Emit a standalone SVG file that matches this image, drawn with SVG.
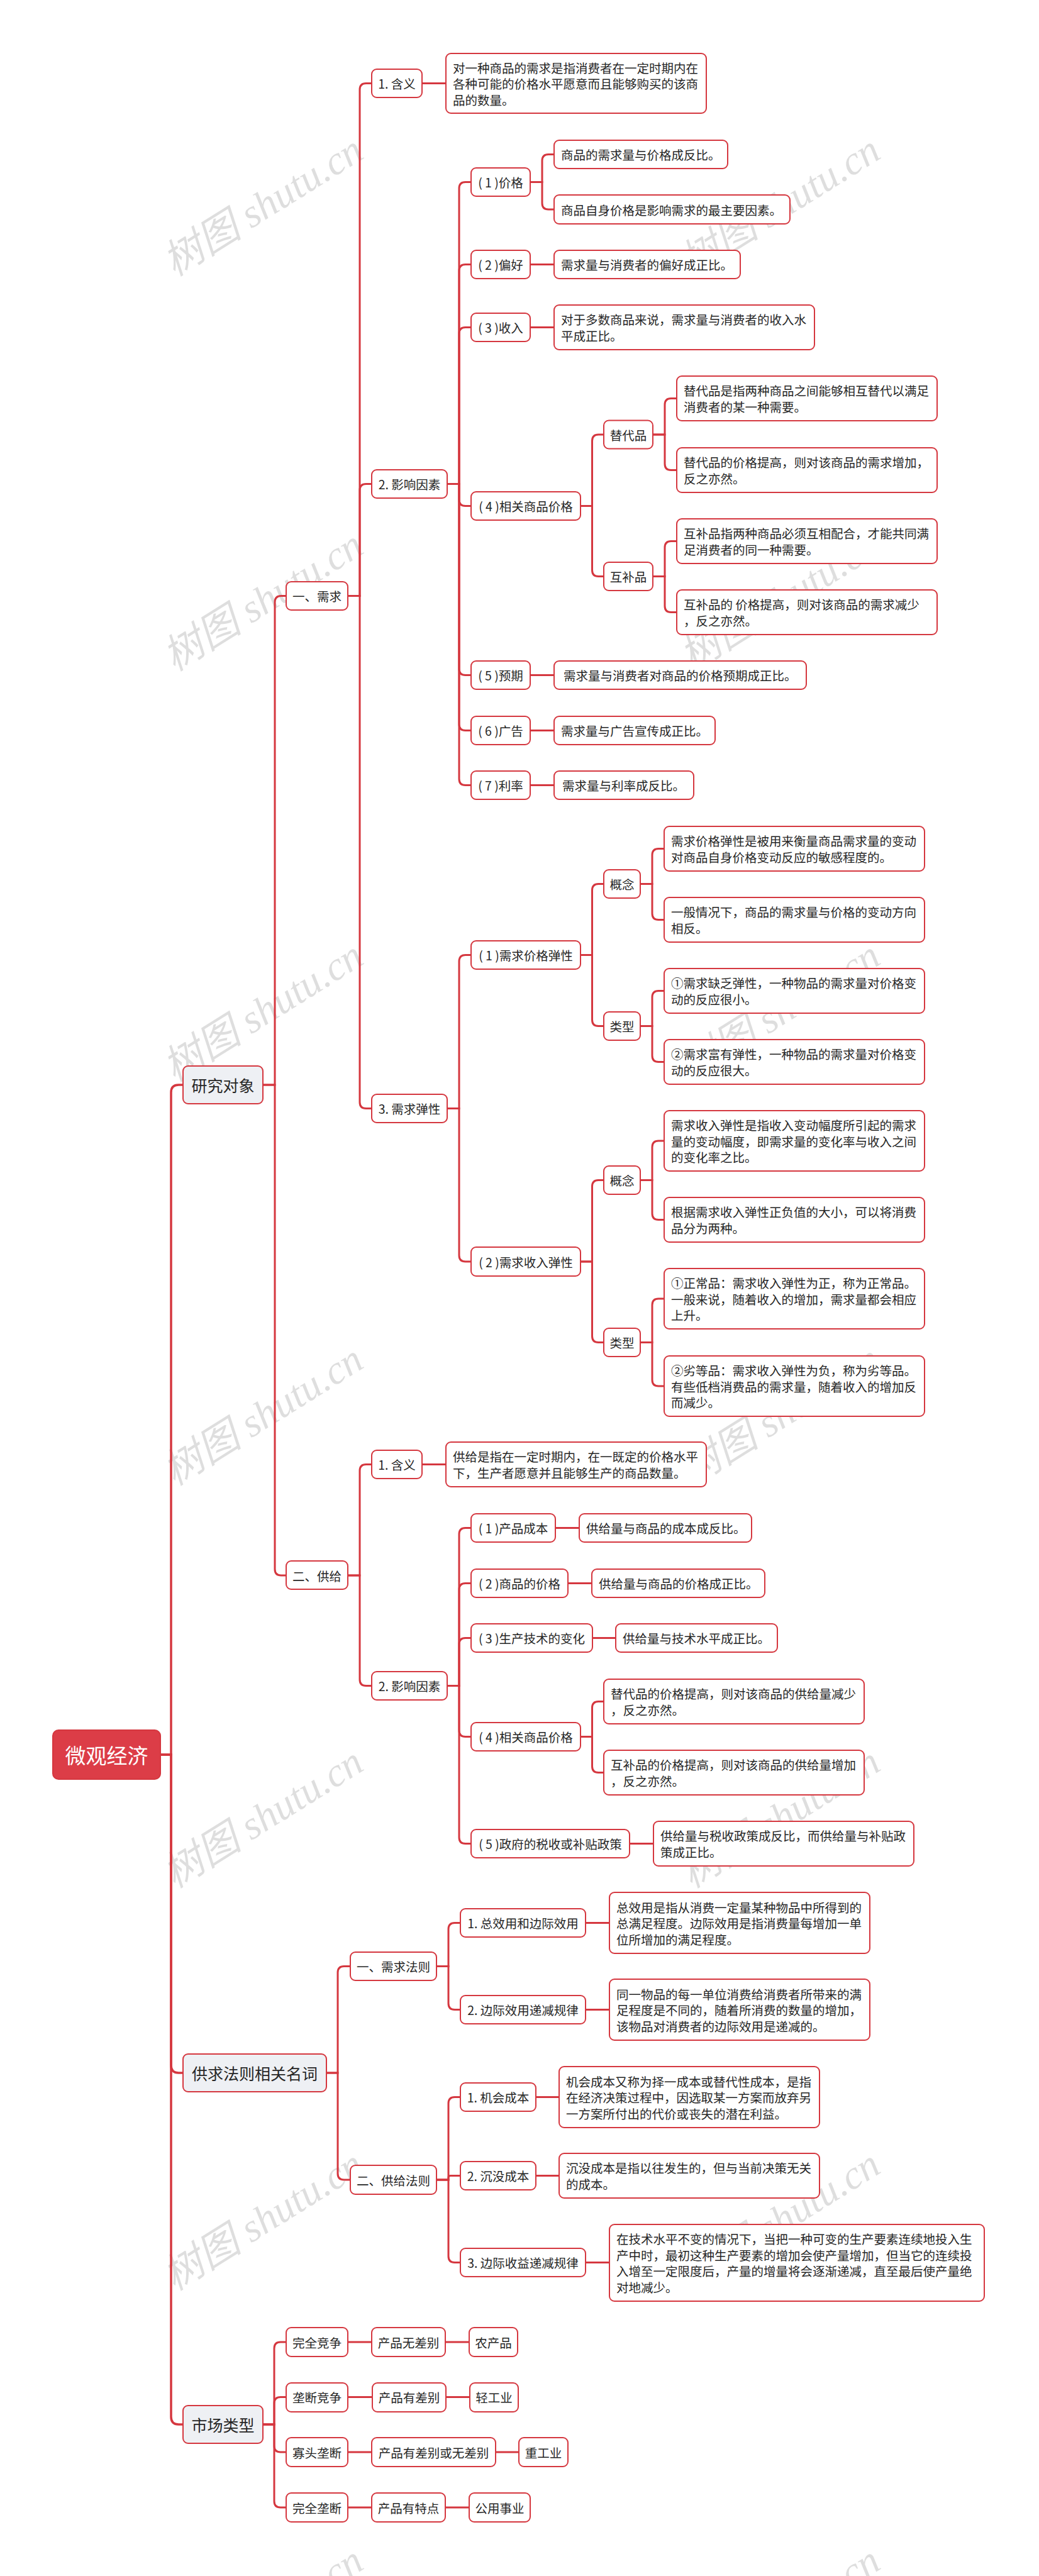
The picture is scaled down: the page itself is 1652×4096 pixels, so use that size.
<svg xmlns="http://www.w3.org/2000/svg" width="1652" height="4096" viewBox="0 0 1652 4096">
<style>
.n{fill:#fff;stroke:#d5373f;stroke-width:2}
.l1{fill:#eef0f4;stroke:#d5373f;stroke-width:2}
.root{fill:#dc3d47;stroke:#d5373f;stroke-width:2}
.t{font-family:"Noto Sans CJK SC","Liberation Sans",sans-serif;font-size:19.5px;fill:#262626;dominant-baseline:central}
.t1{font-family:"Noto Sans CJK SC","Liberation Sans",sans-serif;font-size:25px;fill:#262626;dominant-baseline:central;text-anchor:middle}
.tr{font-family:"Noto Sans CJK SC","Liberation Sans",sans-serif;font-size:33px;fill:#fff;dominant-baseline:central;text-anchor:middle}
.m{text-anchor:middle}
.c path{fill:none;stroke:#d5373f;stroke-width:3}
.c path.s{stroke-width:3.5}
.wm{font-family:"Liberation Serif","Noto Sans CJK SC",serif;font-style:italic;font-size:64px;fill:#000;fill-opacity:0.13;text-anchor:middle;dominant-baseline:central}
</style>
<rect width="1652" height="4096" fill="#fff"/>
<g id="watermarks">
<text class="wm" x="418" y="327" transform="rotate(-32 418 327)">树图 shutu.cn</text>
<text class="wm" x="1240" y="327" transform="rotate(-32 1240 327)">树图 shutu.cn</text>
<text class="wm" x="418" y="955" transform="rotate(-32 418 955)">树图 shutu.cn</text>
<text class="wm" x="1240" y="955" transform="rotate(-32 1240 955)">树图 shutu.cn</text>
<text class="wm" x="418" y="1608" transform="rotate(-32 418 1608)">树图 shutu.cn</text>
<text class="wm" x="1240" y="1608" transform="rotate(-32 1240 1608)">树图 shutu.cn</text>
<text class="wm" x="418" y="2250" transform="rotate(-32 418 2250)">树图 shutu.cn</text>
<text class="wm" x="1240" y="2250" transform="rotate(-32 1240 2250)">树图 shutu.cn</text>
<text class="wm" x="418" y="2890" transform="rotate(-32 418 2890)">树图 shutu.cn</text>
<text class="wm" x="1240" y="2890" transform="rotate(-32 1240 2890)">树图 shutu.cn</text>
<text class="wm" x="418" y="3530" transform="rotate(-32 418 3530)">树图 shutu.cn</text>
<text class="wm" x="1240" y="3530" transform="rotate(-32 1240 3530)">树图 shutu.cn</text>
<text class="wm" x="418" y="4160" transform="rotate(-32 418 4160)">树图 shutu.cn</text>
<text class="wm" x="1240" y="4160" transform="rotate(-32 1240 4160)">树图 shutu.cn</text>
</g>
<g class="c" id="connectors">
<path class="s" d="M255 2790 H272 V1737 Q272 1725 284 1725 H291"/>
<path class="s" d="M255 2790 H272 V3284 Q272 3296 284 3296 H291"/>
<path class="s" d="M255 2790 H272 V3843 Q272 3855 284 3855 H291"/>
<path d="M418 1725 H437 V957.5 Q437 947.5 447 947.5 H455"/>
<path d="M418 1725 H437 V2495 Q437 2505 447 2505 H455"/>
<path d="M553 947.5 H572 V142.5 Q572 132.5 582 132.5 H591"/>
<path d="M553 947.5 H572 V779.5 Q572 769.5 582 769.5 H591"/>
<path d="M553 947.5 H572 V1752.5 Q572 1762.5 582 1762.5 H591"/>
<path d="M671 132.5 H709"/>
<path d="M711 769.5 H730 V299.5 Q730 289.5 740 289.5 H749"/>
<path d="M711 769.5 H730 V430.5 Q730 420.5 740 420.5 H749"/>
<path d="M711 769.5 H730 V530.5 Q730 520.5 740 520.5 H749"/>
<path d="M711 769.5 H730 V794.5 Q730 804.5 740 804.5 H749"/>
<path d="M711 769.5 H730 V1063.5 Q730 1073.5 740 1073.5 H749"/>
<path d="M711 769.5 H730 V1151.5 Q730 1161.5 740 1161.5 H749"/>
<path d="M711 769.5 H730 V1238.5 Q730 1248.5 740 1248.5 H749"/>
<path d="M843 289.5 H862 V255.5 Q862 245.5 872 245.5 H881"/>
<path d="M843 289.5 H862 V323 Q862 333 872 333 H881"/>
<path d="M843 420.5 H881"/>
<path d="M843 520.5 H881"/>
<path d="M923 804.5 H941.5 V701 Q941.5 691 951.5 691 H960"/>
<path d="M923 804.5 H941.5 V906.5 Q941.5 916.5 951.5 916.5 H960"/>
<path d="M1038 691 H1057 V643.5 Q1057 633.5 1067 633.5 H1076"/>
<path d="M1038 691 H1057 V737.5 Q1057 747.5 1067 747.5 H1076"/>
<path d="M1038 916.5 H1057 V870.5 Q1057 860.5 1067 860.5 H1076"/>
<path d="M1038 916.5 H1057 V963.5 Q1057 973.5 1067 973.5 H1076"/>
<path d="M843 1073.5 H881"/>
<path d="M843 1161.5 H881"/>
<path d="M843 1248.5 H881"/>
<path d="M711 1762.5 H730 V1528.5 Q730 1518.5 740 1518.5 H749"/>
<path d="M711 1762.5 H730 V1996 Q730 2006 740 2006 H749"/>
<path d="M923 1518.5 H941.5 V1415.5 Q941.5 1405.5 951.5 1405.5 H960"/>
<path d="M923 1518.5 H941.5 V1621.5 Q941.5 1631.5 951.5 1631.5 H960"/>
<path d="M1018 1405.5 H1037 V1359.5 Q1037 1349.5 1047 1349.5 H1056"/>
<path d="M1018 1405.5 H1037 V1452.5 Q1037 1462.5 1047 1462.5 H1056"/>
<path d="M1018 1631.5 H1037 V1585.5 Q1037 1575.5 1047 1575.5 H1056"/>
<path d="M1018 1631.5 H1037 V1678.5 Q1037 1688.5 1047 1688.5 H1056"/>
<path d="M923 2006 H941.5 V1886.5 Q941.5 1876.5 951.5 1876.5 H960"/>
<path d="M923 2006 H941.5 V2124.5 Q941.5 2134.5 951.5 2134.5 H960"/>
<path d="M1018 1876.5 H1037 V1824 Q1037 1814 1047 1814 H1056"/>
<path d="M1018 1876.5 H1037 V1929.5 Q1037 1939.5 1047 1939.5 H1056"/>
<path d="M1018 2134.5 H1037 V2075 Q1037 2065 1047 2065 H1056"/>
<path d="M1018 2134.5 H1037 V2194 Q1037 2204 1047 2204 H1056"/>
<path d="M553 2505 H572 V2338.5 Q572 2328.5 582 2328.5 H591"/>
<path d="M553 2505 H572 V2670.5 Q572 2680.5 582 2680.5 H591"/>
<path d="M671 2328.5 H709"/>
<path d="M711 2680.5 H730 V2439.5 Q730 2429.5 740 2429.5 H749"/>
<path d="M711 2680.5 H730 V2527.5 Q730 2517.5 740 2517.5 H749"/>
<path d="M711 2680.5 H730 V2614.5 Q730 2604.5 740 2604.5 H749"/>
<path d="M711 2680.5 H730 V2751.5 Q730 2761.5 740 2761.5 H749"/>
<path d="M711 2680.5 H730 V2921.5 Q730 2931.5 740 2931.5 H749"/>
<path d="M883 2429.5 H921"/>
<path d="M903 2517.5 H941"/>
<path d="M942 2604.5 H979"/>
<path d="M923 2761.5 H941.5 V2715.5 Q941.5 2705.5 951.5 2705.5 H960"/>
<path d="M923 2761.5 H941.5 V2808.5 Q941.5 2818.5 951.5 2818.5 H960"/>
<path d="M1001 2931.5 H1039"/>
<path d="M519 3296 H537 V3136.5 Q537 3126.5 547 3126.5 H557"/>
<path d="M519 3296 H537 V3456 Q537 3466 547 3466 H557"/>
<path d="M694 3126.5 H713 V3067.5 Q713 3057.5 723 3057.5 H732"/>
<path d="M694 3126.5 H713 V3185.5 Q713 3195.5 723 3195.5 H732"/>
<path d="M694 3466 H713 V3344.5 Q713 3334.5 723 3334.5 H732"/>
<path d="M694 3466 H713 V3462.5 Q713 3459.5 716 3459.5 H732"/>
<path d="M694 3466 H713 V3587.5 Q713 3597.5 723 3597.5 H732"/>
<path d="M931 3057.5 H969"/>
<path d="M931 3195.5 H969"/>
<path d="M852 3334.5 H889"/>
<path d="M852 3459.5 H889"/>
<path d="M931 3597.5 H969"/>
<path d="M418 3855 H436 V3734 Q436 3724 446 3724 H455"/>
<path d="M418 3855 H436 V3821.5 Q436 3811.5 446 3811.5 H455"/>
<path d="M418 3855 H436 V3889 Q436 3899 446 3899 H455"/>
<path d="M418 3855 H436 V3977 Q436 3987 446 3987 H455"/>
<path d="M553 3724 H591"/><path d="M708 3724 H746"/>
<path d="M553 3811.5 H592"/><path d="M709 3811.5 H747"/>
<path d="M553 3899 H591"/><path d="M788 3899 H825"/>
<path d="M553 3987 H591"/><path d="M708 3987 H746"/>
</g>
<g id="root"><rect class="root" x="84" y="2751" width="171" height="78" rx="9"/><text class="tr" x="169.5" y="2790">微观经济</text></g>
<g id="n-yanjiu"><rect class="l1" x="291" y="1695" width="127" height="60" rx="8"/><text class="t1" x="354.5" y="1725">研究对象</text></g>
<g id="n-gongqiu"><rect class="l1" x="291" y="3266" width="228" height="60" rx="8"/><text class="t1" x="405" y="3296">供求法则相关名词</text></g>
<g id="n-shichang"><rect class="l1" x="291" y="3825" width="127" height="60" rx="8"/><text class="t1" x="354.5" y="3855">市场类型</text></g>

<g id="n-xuqiu"><rect class="n" x="455" y="925" width="98" height="45" rx="8"/><text class="t m" x="504" y="947.5">一、需求</text></g>
<g id="n-gongji"><rect class="n" x="455" y="2482" width="98" height="45" rx="8"/><text class="t m" x="504" y="2505">二、供给</text></g>

<g id="n-x-hanyi"><rect class="n" x="591" y="110" width="80" height="45" rx="8"/><text class="t m" x="631" y="132.5">1. 含义</text></g>
<g id="n-x-hanyi-d"><rect class="n" x="709" y="85" width="414" height="95" rx="8"/><text class="t" x="720" y="107">对一种商品的需求是指消费者在一定时期内在</text><text class="t" x="720" y="132.5">各种可能的价格水平愿意而且能够购买的该商</text><text class="t" x="720" y="158">品的数量。</text></g>
<g id="n-x-yingxiang"><rect class="n" x="591" y="747" width="120" height="45" rx="8"/><text class="t m" x="651" y="769.5">2. 影响因素</text></g>
<g id="n-x-tanxing"><rect class="n" x="591" y="1740" width="120" height="45" rx="8"/><text class="t m" x="651" y="1762.5">3. 需求弹性</text></g>

<g id="n-jiage"><rect class="n" x="749" y="267" width="94" height="45" rx="8"/><text class="t m" x="796" y="289.5">( 1 )价格</text></g>
<g id="n-jiage-a"><rect class="n" x="881" y="223" width="276" height="45" rx="8"/><text class="t" x="892" y="245.5">商品的需求量与价格成反比。</text></g>
<g id="n-jiage-b"><rect class="n" x="881" y="310" width="375" height="46" rx="8"/><text class="t" x="892" y="333">商品自身价格是影响需求的最主要因素。</text></g>
<g id="n-pianhao"><rect class="n" x="749" y="398" width="94" height="45" rx="8"/><text class="t m" x="796" y="420.5">( 2 )偏好</text></g>
<g id="n-pianhao-a"><rect class="n" x="881" y="398" width="296" height="45" rx="8"/><text class="t" x="892" y="420.5">需求量与消费者的偏好成正比。</text></g>
<g id="n-shouru"><rect class="n" x="749" y="498" width="94" height="45" rx="8"/><text class="t m" x="796" y="520.5">( 3 )收入</text></g>
<g id="n-shouru-a"><rect class="n" x="881" y="485" width="414" height="71" rx="8"/><text class="t" x="892" y="507.75">对于多数商品来说，需求量与消费者的收入水</text><text class="t" x="892" y="533.25">平成正比。</text></g>
<g id="n-xiangguan"><rect class="n" x="749" y="782" width="174" height="45" rx="8"/><text class="t m" x="836" y="804.5">( 4 )相关商品价格</text></g>
<g id="n-tidai"><rect class="n" x="960" y="668.5" width="78" height="45" rx="8"/><text class="t m" x="999" y="691">替代品</text></g>
<g id="n-tidai-a"><rect class="n" x="1076" y="598" width="414" height="71" rx="8"/><text class="t" x="1087" y="620.75">替代品是指两种商品之间能够相互替代以满足</text><text class="t" x="1087" y="646.25">消费者的某一种需要。</text></g>
<g id="n-tidai-b"><rect class="n" x="1076" y="712" width="414" height="71" rx="8"/><text class="t" x="1087" y="734.75">替代品的价格提高，则对该商品的需求增加，</text><text class="t" x="1087" y="760.25">反之亦然。</text></g>
<g id="n-hubu"><rect class="n" x="960" y="894" width="78" height="45" rx="8"/><text class="t m" x="999" y="916.5">互补品</text></g>
<g id="n-hubu-a"><rect class="n" x="1076" y="825" width="414" height="71" rx="8"/><text class="t" x="1087" y="847.75">互补品指两种商品必须互相配合，才能共同满</text><text class="t" x="1087" y="873.25">足消费者的同一种需要。</text></g>
<g id="n-hubu-b"><rect class="n" x="1076" y="938" width="414" height="71" rx="8"/><text class="t" x="1087" y="960.75">互补品的 价格提高，则对该商品的需求减少</text><text class="t" x="1087" y="986.25">，反之亦然。</text></g>
<g id="n-yuqi"><rect class="n" x="749" y="1051" width="94" height="45" rx="8"/><text class="t m" x="796" y="1073.5">( 5 )预期</text></g>
<g id="n-yuqi-a"><rect class="n" x="881" y="1051" width="401" height="45" rx="8"/><text class="t" x="896" y="1073.5">需求量与消费者对商品的价格预期成正比。</text></g>
<g id="n-guanggao"><rect class="n" x="749" y="1139" width="94" height="45" rx="8"/><text class="t m" x="796" y="1161.5">( 6 )广告</text></g>
<g id="n-guanggao-a"><rect class="n" x="881" y="1139" width="256" height="45" rx="8"/><text class="t" x="892" y="1161.5">需求量与广告宣传成正比。</text></g>
<g id="n-lilv"><rect class="n" x="749" y="1226" width="94" height="45" rx="8"/><text class="t m" x="796" y="1248.5">( 7 )利率</text></g>
<g id="n-lilv-a"><rect class="n" x="881" y="1226" width="222" height="45" rx="8"/><text class="t" x="894" y="1248.5">需求量与利率成反比。</text></g>

<g id="n-jgtx"><rect class="n" x="749" y="1496" width="174" height="45" rx="8"/><text class="t m" x="836" y="1518.5">( 1 )需求价格弹性</text></g>
<g id="n-gn1"><rect class="n" x="960" y="1383" width="58" height="45" rx="8"/><text class="t m" x="989" y="1405.5">概念</text></g>
<g id="n-gn1-a"><rect class="n" x="1056" y="1314" width="414" height="71" rx="8"/><text class="t" x="1067" y="1336.75">需求价格弹性是被用来衡量商品需求量的变动</text><text class="t" x="1067" y="1362.25">对商品自身价格变动反应的敏感程度的。</text></g>
<g id="n-gn1-b"><rect class="n" x="1056" y="1427" width="414" height="71" rx="8"/><text class="t" x="1067" y="1449.75">一般情况下，商品的需求量与价格的变动方向</text><text class="t" x="1067" y="1475.25">相反。</text></g>
<g id="n-lx1"><rect class="n" x="960" y="1609" width="58" height="45" rx="8"/><text class="t m" x="989" y="1631.5">类型</text></g>
<g id="n-lx1-a"><rect class="n" x="1056" y="1540" width="414" height="71" rx="8"/><text class="t" x="1067" y="1562.75">①需求缺乏弹性，一种物品的需求量对价格变</text><text class="t" x="1067" y="1588.25">动的反应很小。</text></g>
<g id="n-lx1-b"><rect class="n" x="1056" y="1653" width="414" height="71" rx="8"/><text class="t" x="1067" y="1675.75">②需求富有弹性，一种物品的需求量对价格变</text><text class="t" x="1067" y="1701.25">动的反应很大。</text></g>
<g id="n-srtx"><rect class="n" x="749" y="1983" width="174" height="46" rx="8"/><text class="t m" x="836" y="2006">( 2 )需求收入弹性</text></g>
<g id="n-gn2"><rect class="n" x="960" y="1854" width="58" height="45" rx="8"/><text class="t m" x="989" y="1876.5">概念</text></g>
<g id="n-gn2-a"><rect class="n" x="1056" y="1766" width="414" height="96" rx="8"/><text class="t" x="1067" y="1788.5">需求收入弹性是指收入变动幅度所引起的需求</text><text class="t" x="1067" y="1814">量的变动幅度，即需求量的变化率与收入之间</text><text class="t" x="1067" y="1839.5">的变化率之比。</text></g>
<g id="n-gn2-b"><rect class="n" x="1056" y="1904" width="414" height="71" rx="8"/><text class="t" x="1067" y="1926.75">根据需求收入弹性正负值的大小，可以将消费</text><text class="t" x="1067" y="1952.25">品分为两种。</text></g>
<g id="n-lx2"><rect class="n" x="960" y="2112" width="58" height="45" rx="8"/><text class="t m" x="989" y="2134.5">类型</text></g>
<g id="n-lx2-a"><rect class="n" x="1056" y="2017" width="414" height="96" rx="8"/><text class="t" x="1067" y="2039.5">①正常品：需求收入弹性为正，称为正常品。</text><text class="t" x="1067" y="2065">一般来说，随着收入的增加，需求量都会相应</text><text class="t" x="1067" y="2090.5">上升。</text></g>
<g id="n-lx2-b"><rect class="n" x="1056" y="2156" width="414" height="96" rx="8"/><text class="t" x="1067" y="2178.5">②劣等品：需求收入弹性为负，称为劣等品。</text><text class="t" x="1067" y="2204">有些低档消费品的需求量，随着收入的增加反</text><text class="t" x="1067" y="2229.5">而减少。</text></g>

<g id="n-g-hanyi"><rect class="n" x="591" y="2306" width="80" height="45" rx="8"/><text class="t m" x="631" y="2328.5">1. 含义</text></g>
<g id="n-g-hanyi-d"><rect class="n" x="709" y="2293" width="414" height="71" rx="8"/><text class="t" x="720" y="2315.75">供给是指在一定时期内，在一既定的价格水平</text><text class="t" x="720" y="2341.25">下，生产者愿意并且能够生产的商品数量。</text></g>
<g id="n-g-yingxiang"><rect class="n" x="591" y="2658" width="120" height="45" rx="8"/><text class="t m" x="651" y="2680.5">2. 影响因素</text></g>
<g id="n-chengben"><rect class="n" x="749" y="2407" width="134" height="45" rx="8"/><text class="t m" x="816" y="2429.5">( 1 )产品成本</text></g>
<g id="n-chengben-a"><rect class="n" x="921" y="2407" width="274" height="45" rx="8"/><text class="t" x="932" y="2429.5">供给量与商品的成本成反比。</text></g>
<g id="n-spjg"><rect class="n" x="749" y="2495" width="154" height="45" rx="8"/><text class="t m" x="826" y="2517.5">( 2 )商品的价格</text></g>
<g id="n-spjg-a"><rect class="n" x="941" y="2495" width="275" height="45" rx="8"/><text class="t" x="952" y="2517.5">供给量与商品的价格成正比。</text></g>
<g id="n-jishu"><rect class="n" x="749" y="2582" width="193" height="45" rx="8"/><text class="t m" x="845.5" y="2604.5">( 3 )生产技术的变化</text></g>
<g id="n-jishu-a"><rect class="n" x="979" y="2582" width="257" height="45" rx="8"/><text class="t" x="990" y="2604.5">供给量与技术水平成正比。</text></g>
<g id="n-g-xiangguan"><rect class="n" x="749" y="2739" width="174" height="45" rx="8"/><text class="t m" x="836" y="2761.5">( 4 )相关商品价格</text></g>
<g id="n-g-xiangguan-a"><rect class="n" x="960" y="2670" width="414" height="71" rx="8"/><text class="t" x="971" y="2692.75">替代品的价格提高，则对该商品的供给量减少</text><text class="t" x="971" y="2718.25">，反之亦然。</text></g>
<g id="n-g-xiangguan-b"><rect class="n" x="960" y="2783" width="414" height="71" rx="8"/><text class="t" x="971" y="2805.75">互补品的价格提高，则对该商品的供给量增加</text><text class="t" x="971" y="2831.25">，反之亦然。</text></g>
<g id="n-zhengce"><rect class="n" x="749" y="2909" width="252" height="45" rx="8"/><text class="t m" x="875" y="2931.5">( 5 )政府的税收或补贴政策</text></g>
<g id="n-zhengce-a"><rect class="n" x="1039" y="2896" width="414" height="71" rx="8"/><text class="t" x="1050" y="2918.75">供给量与税收政策成反比，而供给量与补贴政</text><text class="t" x="1050" y="2944.25">策成正比。</text></g>

<g id="n-xqfz"><rect class="n" x="557" y="3104" width="137" height="45" rx="8"/><text class="t m" x="625.5" y="3126.5">一、需求法则</text></g>
<g id="n-xiaoyong"><rect class="n" x="732" y="3035" width="199" height="45" rx="8"/><text class="t m" x="831.5" y="3057.5">1. 总效用和边际效用</text></g>
<g id="n-xiaoyong-a"><rect class="n" x="969" y="3009" width="414" height="97" rx="8"/><text class="t" x="980" y="3032">总效用是指从消费一定量某种物品中所得到的</text><text class="t" x="980" y="3057.5">总满足程度。边际效用是指消费量每增加一单</text><text class="t" x="980" y="3083">位所增加的满足程度。</text></g>
<g id="n-dijian"><rect class="n" x="732" y="3173" width="199" height="45" rx="8"/><text class="t m" x="831.5" y="3195.5">2. 边际效用递减规律</text></g>
<g id="n-dijian-a"><rect class="n" x="969" y="3147" width="414" height="97" rx="8"/><text class="t" x="980" y="3170">同一物品的每一单位消费给消费者所带来的满</text><text class="t" x="980" y="3195.5">足程度是不同的，随着所消费的数量的增加，</text><text class="t" x="980" y="3221">该物品对消费者的边际效用是递减的。</text></g>
<g id="n-gjfz"><rect class="n" x="557" y="3443" width="137" height="46" rx="8"/><text class="t m" x="625.5" y="3466">二、供给法则</text></g>
<g id="n-jihui"><rect class="n" x="732" y="3312" width="120" height="45" rx="8"/><text class="t m" x="792" y="3334.5">1. 机会成本</text></g>
<g id="n-jihui-a"><rect class="n" x="889" y="3286" width="414" height="97" rx="8"/><text class="t" x="900" y="3309">机会成本又称为择一成本或替代性成本，是指</text><text class="t" x="900" y="3334.5">在经济决策过程中，因选取某一方案而放弃另</text><text class="t" x="900" y="3360">一方案所付出的代价或丧失的潜在利益。</text></g>
<g id="n-chenmo"><rect class="n" x="732" y="3437" width="120" height="45" rx="8"/><text class="t m" x="792" y="3459.5">2. 沉没成本</text></g>
<g id="n-chenmo-a"><rect class="n" x="889" y="3424" width="414" height="71" rx="8"/><text class="t" x="900" y="3446.75">沉没成本是指以往发生的，但与当前决策无关</text><text class="t" x="900" y="3472.25">的成本。</text></g>
<g id="n-shouyi"><rect class="n" x="732" y="3575" width="199" height="45" rx="8"/><text class="t m" x="831.5" y="3597.5">3. 边际收益递减规律</text></g>
<g id="n-shouyi-a"><rect class="n" x="969" y="3537" width="596" height="122" rx="8"/><text class="t" x="980" y="3559.75">在技术水平不变的情况下，当把一种可变的生产要素连续地投入生</text><text class="t" x="980" y="3585.25">产中时，最初这种生产要素的增加会使产量增加，但当它的连续投</text><text class="t" x="980" y="3610.75">入增至一定限度后，产量的增量将会逐渐递减，直至最后使产量绝</text><text class="t" x="980" y="3636.25">对地减少。</text></g>

<g id="n-wqjz"><rect class="n" x="455" y="3701" width="98" height="46" rx="8"/><text class="t m" x="504" y="3724">完全竞争</text></g>
<g id="n-wqjz-a"><rect class="n" x="591" y="3701" width="117" height="46" rx="8"/><text class="t m" x="649.5" y="3724">产品无差别</text></g>
<g id="n-wqjz-b"><rect class="n" x="746" y="3701" width="77" height="46" rx="8"/><text class="t m" x="784.5" y="3724">农产品</text></g>
<g id="n-ldjz"><rect class="n" x="455" y="3789" width="98" height="46" rx="8"/><text class="t m" x="504" y="3811.5">垄断竞争</text></g>
<g id="n-ldjz-a"><rect class="n" x="592" y="3789" width="117" height="46" rx="8"/><text class="t m" x="650.5" y="3811.5">产品有差别</text></g>
<g id="n-ldjz-b"><rect class="n" x="747" y="3789" width="77" height="46" rx="8"/><text class="t m" x="785.5" y="3811.5">轻工业</text></g>
<g id="n-gtld"><rect class="n" x="455" y="3876" width="98" height="46" rx="8"/><text class="t m" x="504" y="3899">寡头垄断</text></g>
<g id="n-gtld-a"><rect class="n" x="591" y="3876" width="197" height="46" rx="8"/><text class="t m" x="689.5" y="3899">产品有差别或无差别</text></g>
<g id="n-gtld-b"><rect class="n" x="825" y="3876" width="78" height="46" rx="8"/><text class="t m" x="864" y="3899">重工业</text></g>
<g id="n-wqld"><rect class="n" x="455" y="3964" width="98" height="46" rx="8"/><text class="t m" x="504" y="3987">完全垄断</text></g>
<g id="n-wqld-a"><rect class="n" x="591" y="3964" width="117" height="46" rx="8"/><text class="t m" x="649.5" y="3987">产品有特点</text></g>
<g id="n-wqld-b"><rect class="n" x="746" y="3964" width="97" height="46" rx="8"/><text class="t m" x="794.5" y="3987">公用事业</text></g>
</svg>
